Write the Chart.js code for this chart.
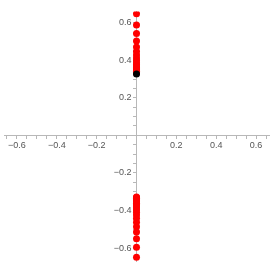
<!DOCTYPE html>
<html>
<head>
<meta charset="utf-8">
<script src="https://cdn.jsdelivr.net/npm/chart.js@4/dist/chart.umd.min.js"></script>
<style>
  html, body { margin: 0; padding: 0; background: #fff; }
  #wrap { width: 273px; height: 273px; }
</style>
</head>
<body>
<div id="wrap"><canvas id="plot"></canvas></div>
<script>
// points on the imaginary axis (x = 0)
const upperY = [0.647, 0.588, 0.542, 0.502, 0.470, 0.447, 0.428, 0.412, 0.398, 0.387, 0.377, 0.369, 0.362, 0.356, 0.351, 0.346, 0.342, 0.338, 0.335, 0.332];
const lowerY = [-0.649, -0.595, -0.551, -0.514, -0.486, -0.462, -0.441, -0.424, -0.409, -0.397, -0.386, -0.376, -0.368, -0.361, -0.354, -0.348, -0.343, -0.339, -0.335, -0.331, -0.328];
const startPoint = [0.327];
const tickLabels = [-0.6, -0.4, -0.2, 0.2, 0.4, 0.6];

const toPts = ys => ys.map(y => ({ x: 0, y: y }));

const axisColor = '#b8b8b8';
const labelColor = '#555';

function fmt(v) {
  const s = Math.abs(v).toFixed(1);
  return v < 0 ? '\u2212' + s : s;
}

function minorTicks(scale) {
  const t = [];
  for (let i = -13; i <= 13; i++) t.push({ value: i * 0.05 });
  scale.ticks = t;
}

function tickLabel(value) {
  const hit = tickLabels.find(l => Math.abs(l - value) < 1e-6);
  return hit === undefined ? '' : fmt(hit);
}

// centred y axis ignores ticks.padding, so pad the text itself
function yTickLabel(value) {
  const s = tickLabel(value);
  return s ? s + '  ' : s;
}

new Chart(document.getElementById('plot'), {
  type: 'scatter',
  data: {
    datasets: [
      {
        data: toPts(startPoint),
        backgroundColor: '#000',
        borderWidth: 0,
        pointRadius: 3.5
      },
      {
        data: toPts(upperY).concat(toPts(lowerY)),
        backgroundColor: '#ff0000',
        borderWidth: 0,
        pointRadius: 3.5
      }
    ]
  },
  options: {
    responsive: true,
    maintainAspectRatio: false,
    animation: false,
    layout: { padding: 0 },
    plugins: { legend: { display: false }, tooltip: { enabled: false } },
    scales: {
      x: {
        type: 'linear',
        min: -0.665,
        max: 0.665,
        position: { y: 0 },
        afterBuildTicks: minorTicks,
        border: { color: axisColor, width: 1 },
        grid: { drawOnChartArea: false, drawTicks: true, tickLength: 3, color: axisColor },
        ticks: {
          autoSkip: false,
          maxRotation: 0,
          padding: 2,
          color: labelColor,
          font: { family: 'Liberation Sans', size: 9 },
          callback: tickLabel
        }
      },
      y: {
        type: 'linear',
        min: -0.672,
        max: 0.66,
        position: { x: 0 },
        afterBuildTicks: minorTicks,
        border: { color: axisColor, width: 1 },
        grid: { drawOnChartArea: false, drawTicks: true, tickLength: 3, color: axisColor },
        ticks: {
          autoSkip: false,
          padding: 6,
          color: labelColor,
          font: { family: 'Liberation Sans', size: 9 },
          callback: yTickLabel
        }
      }
    }
  }
});
</script>
</body>
</html>
